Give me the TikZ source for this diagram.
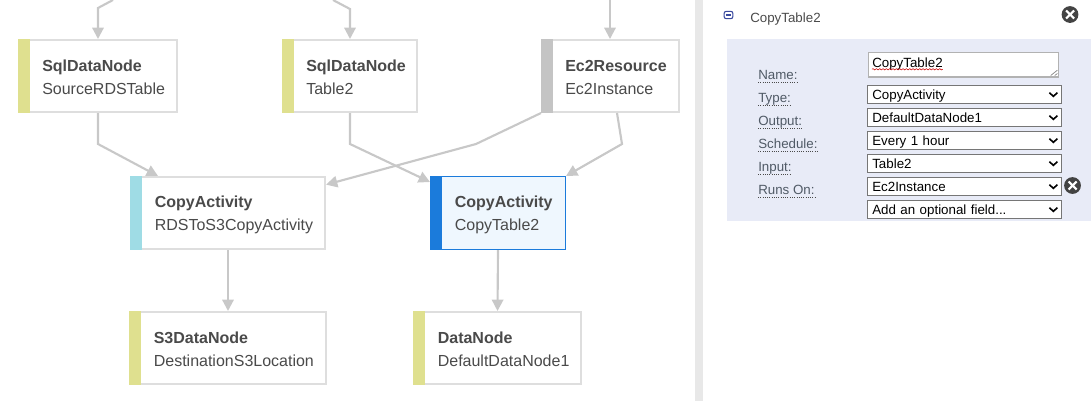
\documentclass[tikz,border=0pt]{standalone}
\usepackage{fontspec}
\setmainfont{Liberation Sans}
\usetikzlibrary{arrows.meta}
\usetikzlibrary{decorations.pathmorphing}
\definecolor{edgegray}{HTML}{C8C8C8}
\definecolor{boxline}{HTML}{DEDEDE}
\definecolor{textgray}{HTML}{4A4A4A}
\definecolor{datayellow}{HTML}{DFE08F}
\definecolor{activitycyan}{HTML}{9FDCE5}
\definecolor{resourcegray}{HTML}{C4C4C4}
\definecolor{selectblue}{HTML}{1B7BDB}
\definecolor{selectfill}{HTML}{EFF7FE}
\definecolor{panelblue}{HTML}{E8EBF7}
\definecolor{sidegray}{HTML}{E8E8E8}
\definecolor{fieldline}{HTML}{767676}
\definecolor{labelgray}{HTML}{505A66}
\definecolor{iconblue}{HTML}{3A4A9F}
\tikzset{
  graphbox/.style 2 args={draw=boxline,line width=1.5pt,fill=white,anchor=north west,
    inner sep=0pt,outer sep=.75pt,minimum width=#1*.75pt,minimum height=54pt,
    append after command={node[fill=#2,inner sep=0pt,outer sep=0pt,anchor=north west,
      minimum width=9pt,minimum height=55.5pt] at (\tikzlastnode.north west) {}}},
  boxtext/.style={anchor=west,align=left,inner sep=0pt,text=textgray,font=\fontsize{12}{17.25}\selectfont},
  link/.style={draw=edgegray,line width=1.6pt,-{Triangle[length=8.5pt,width=8.5pt]}},
  field/.style={draw=fieldline,line width=.9pt,fill=white,anchor=north west,inner xsep=3.6pt,inner ysep=0pt,
    outer sep=0pt,text width=138.5pt,align=left,minimum height=13.5pt,text height=8.15pt,text depth=1.25pt,
    font=\fontsize{10}{12}\selectfont,
    path picture={\draw[black,line width=1.2pt]
      ([xshift=-9.3pt,yshift=1.4pt]path picture bounding box.east) --
      ([xshift=-6.3pt,yshift=-1.4pt]path picture bounding box.east) --
      ([xshift=-3.3pt,yshift=1.4pt]path picture bounding box.east);}},
  fieldlabel/.style={anchor=base west,inner sep=0pt,text=labelgray,text depth=2.3pt,
    font=\fontsize{10}{12}\selectfont,
    append after command={(\tikzlastnode.south west) edge[draw=textgray,line width=.7pt,densely dotted]
      (\tikzlastnode.south east)}},
  closeicon/.style={circle,fill=textgray!90!black,inner sep=0pt,minimum size=12.6pt,
    path picture={\draw[white,line width=1.6pt]
      ([xshift=-3pt,yshift=-3pt]path picture bounding box.center) -- ([xshift=3pt,yshift=3pt]path picture bounding box.center)
      ([xshift=-3pt,yshift=3pt]path picture bounding box.center) -- ([xshift=3pt,yshift=-3pt]path picture bounding box.center);}}
}
\begin{document}
\begin{tikzpicture}[x=.75pt,y=-.75pt]
  \useasboundingbox (0,0) rectangle (1091,401);
  % right hand panel
  \fill[sidegray] (695,0) rectangle (703,401);
  \fill[panelblue] (727,39) rectangle (1091,221);
  % graph boxes
  \node[graphbox={158}{datayellow}] (srctable) at (18,39) {};
  \node[boxtext] at ([xshift=18pt,yshift=-.75pt]srctable.west) {\textbf{SqlDataNode}\\SourceRDSTable};
  \node[graphbox={134}{datayellow}] (table2) at (282,39) {};
  \node[boxtext] at ([xshift=18pt,yshift=-.75pt]table2.west) {\textbf{SqlDataNode}\\Table2};
  \node[graphbox={137}{resourcegray}] (ec2) at (541,39) {};
  \node[boxtext] at ([xshift=18pt,yshift=-.75pt]ec2.west) {\textbf{Ec2Resource}\\Ec2Instance};
  \node[graphbox={194}{activitycyan}] (rdscopy) at (130,176) {};
  \node[boxtext] at ([xshift=18.4pt,yshift=-1.5pt]rdscopy.west) {\textbf{CopyActivity}\\RDSToS3CopyActivity};
  \node[graphbox={135}{selectblue},draw=selectblue,fill=selectfill,line width=.75pt,outer sep=.375pt,minimum height=54.75pt] (copytable2) at (430,176) {};
  \node[boxtext] at ([xshift=18.4pt,yshift=-1.5pt]copytable2.west) {\textbf{CopyActivity}\\CopyTable2};
  \node[graphbox={196}{datayellow}] (s3node) at (129,311) {};
  \node[boxtext] at ([xshift=18.4pt,yshift=-.75pt]s3node.west) {\textbf{S3DataNode}\\DestinationS3Location};
  \node[graphbox={167}{datayellow}] (datanode) at (413,311) {};
  \node[boxtext] at ([xshift=18.4pt,yshift=-.75pt]datanode.west) {\textbf{DataNode}\\DefaultDataNode1};
  % bends of the links
  \coordinate (in1) at (113,0);
  \coordinate (in1b) at (98,8);
  \coordinate (in2) at (333,0);
  \coordinate (in2b) at (350,9);
  \coordinate (in3) at (610,0);
  \coordinate (srcb) at (98,144);
  \coordinate (tabb) at (350,144);
  \coordinate (ec2l) at (476,144);
  \coordinate (ec2r) at (622,144);
  \coordinate (rdsin) at (158,176);
  \coordinate (ec2start) at (617,113);
  \draw[link] (in1) -- (in1b) -- (srctable.north);
  \draw[link] (in2) -- (in2b) -- (table2.north);
  \draw[link] (in3) -- (ec2.north -| in3);
  \draw[link] (srctable.south) -- (srcb) -- (rdsin);
  \draw[link] (table2.south) -- (tabb) -- ([yshift=-4.5pt]copytable2.north west);
  \draw[link] (ec2.south west) -- (ec2l) -- ([yshift=-6.5pt]rdscopy.north east);
  \draw[link] (ec2start) -- (ec2r) -- (copytable2.north east);
  \draw[link] (rdscopy.south) -- (s3node.north);
  \draw[link] (copytable2.south) -- (datanode.north);
  % panel title
  \node[draw=iconblue,rounded corners=1.5pt,line width=.8pt,minimum width=6.5pt,minimum height=5.5pt,inner sep=0pt,
    path picture={\draw[iconblue,line width=.8pt] ([xshift=-2pt]path picture bounding box.center) -- ([xshift=2pt]path picture bounding box.center);}]
    (minus) at (728.5,15) {};
  \node[anchor=base west,inner sep=0pt,text=textgray,font=\fontsize{10}{12}\selectfont] (title) at (750,22) {CopyTable2};
  \node[closeicon] (closetitle) at (1070,14.5) {};
  % name field
  \node[draw=gray!60,line width=.9pt,fill=white,anchor=north west,minimum width=143pt,minimum height=18.6pt,inner sep=0pt] (namebox) at (867.5,51.5) {};
  \node[anchor=base west,inner sep=0pt,text depth=1.5pt,font=\fontsize{10}{12}\selectfont] (nametext) at (872,67) {CopyTable2};
  \draw[red!80!black,line width=.4pt,decorate,decoration={snake,amplitude=.5pt,segment length=2.5pt}] (nametext.south west) -- (nametext.south east);
  \draw[gray,line width=.5pt] ([shift={(-1.5pt,5.5pt)}]namebox.south east) -- ([shift={(-6.5pt,1.5pt)}]namebox.south east)
    ([shift={(-1.5pt,3pt)}]namebox.south east) -- ([shift={(-3.5pt,1.5pt)}]namebox.south east);
  % fields
  \node[fieldlabel] (namelbl) at (758,79) {Name:};
  \node[fieldlabel] (typelbl) at (758,102) {Type:};
  \node[field] (typef) at (867.5,85.5) {CopyActivity};
  \node[fieldlabel] (outlbl) at (758,125) {Output:};
  \node[field] (outf) at (867.5,108.5) {DefaultDataNode1};
  \node[fieldlabel] (schedlbl) at (758,148) {Schedule:};
  \node[field] (schedf) at (867.5,131.5) {Every 1 hour};
  \node[fieldlabel] (inlbl) at (758,171) {Input:};
  \node[field] (inf) at (867.5,154.5) {Table2};
  \node[fieldlabel] (runslbl) at (758,194) {Runs On:};
  \node[field] (runsf) at (867.5,177.5) {Ec2Instance};
  \node[field] (addf) at (867.5,200.5) {Add an optional field...};
  \node[closeicon] (closeruns) at (1072.5,185.5) {};
\end{tikzpicture}
\end{document}
